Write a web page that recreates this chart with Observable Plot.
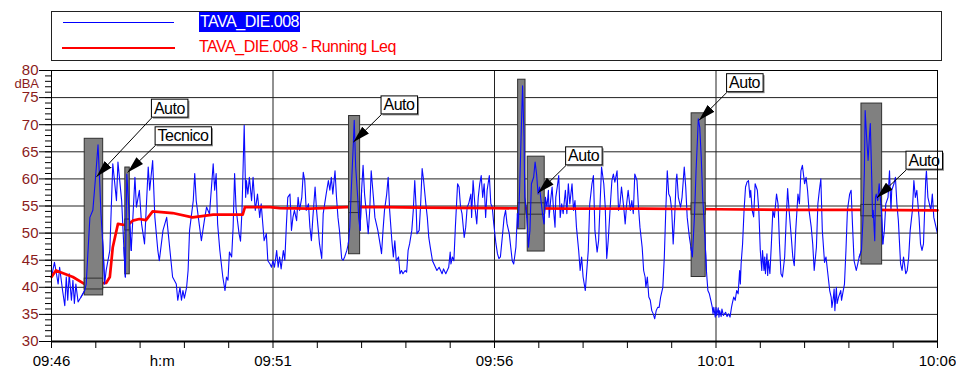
<!DOCTYPE html>
<html>
<head>
<meta charset="utf-8">
<script src="https://cdn.jsdelivr.net/npm/d3@7"></script>
<script src="https://cdn.jsdelivr.net/npm/@observablehq/plot@0.6"></script>
<style>
  html, body { margin: 0; padding: 0; background: #fff; }
  #legend { position: relative; width: 956px; height: 62px; font-family: "Liberation Sans", Arial, sans-serif; }
  #legend .box { position: absolute; left: 51px; top: 11px; width: 889px; height: 48px; border: 1px solid #222; }
  #legend .ln { position: absolute; }
  #legend .lbl { position: absolute; white-space: nowrap; height: 20px; line-height: 20px; }
  #chart svg { display: block; }
</style>
</head>
<body>
<div id="legend">
  <div class="box"></div>
  <div class="ln" style="left:63px;top:22px;width:111px;height:0;border-top:1px solid #0000ff"></div>
  <div class="ln" style="left:62px;top:47px;width:113px;height:0;border-top:2.6px solid #ff0000"></div>
  <div class="lbl" id="leg1" style="left:199px;top:12px;background:#0000ff;color:#fff;padding:0 1px 0 1px"></div>
  <div class="lbl" id="leg2" style="left:199px;top:37px;color:#ff0000"></div>
</div>
<div id="chart"></div>
<script>
// ---------------- data ----------------
const seriesNames = ["TAVA_DIE.008", "TAVA_DIE.008 - Running Leq"];

// seconds after 09:46:00
const laSeconds = [0,4,6,9,11,15,18,20,22,24,27,29,31,33,36,40,45,47,49,52,56,60,63,65,67,70,72,74,79,83,88,90,95,98,100,102,106,108,113,115,119,122,126,131,133,137,140,144,146,151,156,160,164,169,171,174,176,178,180,183,185,187,192,194,196,200,203,207,210,214,219,221,223,225,228,232,235,237,239,241,244,246,248,250,254,256,258,261,263,264,266,268,271,273,276,279,282,284,288,291,293,296,298,300,302,305,307,309,311,314,316,318,320,323,325,327,329,332,334,336,339,341,343,345,348,350,352,354,357,359,361,363,366,368,370,372,375,377,379,381,384,386,388,390,393,395,397,400,402,404,406,409,410,412,415,416,418,420,422,424,427,429,431,433,436,438,440,442,445,447,449,451,454,456,458,461,463,465,467,470,472,474,476,479,481,483,485,488,490,492,494,495,498,500,502,504,507,509,511,513,516,518,520,522,525,527,529,531,534,536,538,540,541,543,545,547,550,552,554,556,559,561,563,565,568,569,571,574,576,578,580,582,584,586,588,590,593,595,597,599,602,604,606,608,611,613,615,617,620,622,624,626,629,631,632,634,636,638,640,641,644,646,648,650,653,655,657,659,661,663,665,667,669,671,673,674,676,678,680,682,683,685,687,689,691,693,696,698,700,702,705,707,709,711,714,716,718,720,723,725,727,729,732,734,736,739,741,743,745,748,750,752,754,757,759,761,763,766,768,770,772,775,777,779,781,784,786,788,790,793,795,797,800,802,804,805,807,809,811,813,815,817,819,821,823,825,828,830,832,834,836,838,840,842,844,846,847,849,852,854,856,857,859,861,864,866,868,871,873,875,876,878,880,882,885,887,889,891,893,895,896,897,899,900,901,903,904,905,907,908,910,913,915,917,919,921,922,924,926,928,930,932,933,934,936,938,940,942,944,946,947,949,951,953,956,958,960,962,963,965,966,967,969,970,971,973,975,977,979,982,984,986,988,990,993,995,997,999,1002,1004,1006,1008,1011,1013,1015,1017,1020,1022,1024,1026,1029,1031,1033,1036,1038,1040,1042,1044,1047,1049,1051,1054,1056,1057,1059,1060,1061,1063,1064,1066,1069,1070,1072,1074,1076,1078,1081,1083,1085,1087,1090,1092,1094,1097,1099,1101,1102,1104,1106,1108,1109,1111,1112,1113,1115,1116,1117,1119,1121,1124,1126,1128,1130,1133,1135,1137,1138,1141,1143,1145,1147,1150,1152,1154,1157,1159,1161,1163,1166,1168,1170,1172,1175,1177,1179,1181,1184,1185,1187,1189,1191,1193,1195,1197,1200];
const laValues = [41.9,44.6,43.1,40.6,43.7,39.4,36.6,41.9,37.6,42.5,37.6,41.3,37,40.6,37.3,38.2,39.4,40.6,45.6,52.9,54.2,60.9,66.3,60.3,53.6,46.8,40.6,43.1,46.8,62.8,56,63.1,56,47.4,41.9,60.9,51.7,46.8,60.3,54.8,57.9,51.7,48,62.2,57.9,63.4,52.9,46.8,44.9,50.5,52.9,47.4,41.9,40.6,37.6,40,37.6,39.4,38,40,43.1,50.5,56,61,56,51.7,48.6,52.3,54.8,53.5,62.8,57.9,61,51.7,46.8,41.9,39.4,41.9,41.3,46.5,45.6,51.1,61,54.5,49.9,48.5,54.2,69.9,56.6,59.7,57.2,60.3,56,60.3,54.2,57.2,52.9,55.4,48.6,49.9,44.9,44.3,43.7,44.9,43.7,46.8,43.7,45.6,43.4,46.8,45,51.1,56.6,57.2,50.5,52.9,54.2,52.3,56.6,54.2,56.6,61.2,59.7,54.2,55.4,51.1,48.6,52.9,58.5,54.2,51.1,48,45.3,53.6,55.4,57.2,59.7,57.9,60.3,57.2,61.5,56.6,52.9,50.5,45.3,45,45.6,46.8,48,51.1,57.9,67.1,70.8,62.2,56,52.9,50.5,57.9,62.5,57.2,52.9,49.9,54.2,61.5,56.6,52.9,51.7,50.5,48,46.2,50.5,54.2,57.2,60.3,54.2,48.6,45.6,48.6,44.9,45.6,42.5,43.1,42.5,43.1,42.8,46.8,48,50.5,54.2,59.7,54.2,49.9,50.5,55.4,61.9,59.7,55.4,52.9,49.2,47.4,44.9,44.3,43.7,43.1,43.7,43.1,42.5,43.4,42.5,43.1,43.7,46.5,44.3,45.6,44.9,51.1,59.1,58.5,54.8,53.6,49.2,51.1,54.8,55.4,57.2,52.9,59.7,54.2,51.7,56.6,59.1,60.6,56.6,59.1,52.9,57.9,60.6,55.4,54.8,51.7,48,46.2,45.3,45.6,49.9,52.9,54.2,51.7,49.9,47.4,44.9,44.3,47.4,53.6,51.1,57.9,67.7,77.2,67.7,56.6,52.9,47.4,50.5,59.1,60.3,63.1,60.9,57.2,58.5,56,53.6,51.7,56.6,54.8,57.9,52.9,56,58.5,54.2,51.1,56.6,58.5,60.6,52.9,55.4,53.6,57.9,53.6,59.1,55.4,59.1,54.2,56,51.1,46.8,43.1,45.6,41.9,39.4,43.1,46.8,55.4,59.1,60.6,50.5,46.5,48.6,55.4,62.2,59.1,54.8,45.3,48.6,55.4,59.7,60.9,59.4,61.5,54.2,55.4,58.5,54.8,51.7,55.4,57.9,54.2,56,53.6,60.9,59.7,54.8,51.1,47.4,43.1,41.9,40,41.9,38.2,37.6,35.7,35.1,34.2,35.7,36.3,36.3,38.2,40,45.6,54.2,61.5,57.2,56.6,54.2,48,52.9,59.7,60.9,56.6,54.8,56.6,60.3,62.2,58.5,52.9,49.2,47.4,45.6,53.6,61.5,67.7,71.1,69.5,64,56.6,49.2,43.1,39.4,38.8,37.6,36.3,35.1,36.3,34.5,36.3,34.8,36.2,34.5,35.7,34.6,36,34.8,35.4,34.6,35.1,34.5,36.3,37,38.2,37.6,39.4,38.8,43.1,40.6,44.3,48,54.2,58.5,59.4,59.7,56.6,57.9,54.2,53,59.1,57.9,54.2,46.8,43.1,46.8,43.1,45.6,42.5,46.2,42.2,44.9,42.5,48,54.2,52.9,57.2,55.4,48,42.5,41.9,45.6,52.3,58.2,54.2,49.2,45.6,44,50.5,57.2,55.4,61.5,62.5,59.1,60.3,57.9,54.2,51.1,48,43.1,47.4,55.4,57.9,60,50.5,44.6,45.6,43.1,39.4,38.2,36.3,38.2,39.7,35.7,40,37,38.2,39.4,37.6,39.1,40.6,46.8,54.2,57.2,57.9,51.1,44.9,43.1,44.3,45.6,46.8,52.3,61.5,72.6,67.7,63.4,68.3,70.2,59.7,52.9,54.2,48.6,56.6,57.2,56,59.1,54.2,48,50.5,55.4,56.6,61.5,54.2,57.9,59.1,60.3,55.4,52.3,44.3,43.1,45.6,42.5,43.1,45.6,50.5,54.2,59.7,56.6,57.9,52.9,48,46.8,48,59.7,61.5,56.6,55.4,54.2,57.2,52.9,51.7,49.9];

const leqSeconds = [0,6,29,45,74,79,83,90,103,110,119,128,137,164,191,219,259,262,296,309,350,400,450,500,600,700,800,900,1000,1100,1200];
const leqValues  = [41.9,43.1,41.9,40.6,40.8,41.9,47.4,51.7,51.4,52.3,52.6,52.4,54.0,53.7,52.9,53.4,53.4,54.8,54.8,54.6,54.5,54.8,54.8,54.7,54.6,54.5,54.5,54.4,54.3,54.3,54.2];

// marked events (seconds, dB)
const eventStart = [45, 100, 403, 632, 645, 867, 1097];
const eventEnd   = [70, 106, 418, 642, 668, 886, 1125];
const eventLow   = [38.5, 42.4, 46.1, 50.7, 46.6, 41.9, 44.2];
const eventHigh  = [67.4, 62.1, 71.6, 78.3, 64.1, 72.1, 73.9];
const bandLow    = [39.6, 50.5, 53.7, 53.4, 53.4, 53.4, 53.1];
const bandHigh   = [41.6, 52.5, 55.7, 55.5, 55.5, 55.5, 55.2];

// annotations
const noteText    = ["Auto", "Tecnico", "Auto", "Auto", "Auto", "Auto"];
const noteSeconds = [136, 141, 447, 697, 915, 1158];
const noteLevel   = [71.3, 66.2, 71.9, 62.5, 76.0, 61.7];
const tipSeconds  = [61, 103, 409, 659, 877, 1118];
const tipLevel    = [60.4, 61.2, 66.8, 57.4, 70.8, 56.5];

// axes
const yTickValues  = [30, 35, 40, 45, 50, 55, 60, 65, 70, 75, 80];
const yUnit = "dBA";
const xTickSeconds = [0, 300, 600, 900, 1200];
const xTickLabels  = ["09:46", "09:51", "09:56", "10:01", "10:06"];
const xUnit = "h:m";
const xUnitSeconds = 150;

// ---------------- fonts ----------------
function hasFont(name) {
  const c = document.createElement("canvas").getContext("2d");
  c.font = "40px monospace";
  const a = c.measureText("AutoTecnico 0123").width;
  c.font = `40px "${name}", monospace`;
  return Math.abs(c.measureText("AutoTecnico 0123").width - a) > 0.5;
}
const narrow = hasFont("Liberation Sans Narrow");
const annFont = narrow ? '"Liberation Sans Narrow", "Liberation Sans", sans-serif' : '"Liberation Sans", Arial, sans-serif';
const annSize = narrow ? 18 : 16;
const annSpacing = narrow ? "0px" : "-0.5px";

const leg1 = document.getElementById("leg1"), leg2 = document.getElementById("leg2");
leg1.textContent = seriesNames[0];
leg2.textContent = seriesNames[1];
for (const el of [leg1, leg2]) {
  el.style.fontFamily = annFont;
  el.style.fontSize = annSize + "px";
  el.style.letterSpacing = annSpacing;
}

// ---------------- tables ----------------
const la = laSeconds.map((s, i) => ({s, v: laValues[i]}));
const leq = leqSeconds.map((s, i) => ({s, v: leqValues[i]}));
const events = eventStart.map((s, i) => ({
  id: i, x1: s, x2: eventEnd[i], y1: eventLow[i], y2: eventHigh[i], b1: bandLow[i], b2: bandHigh[i]
}));
const inEvents = events.flatMap(e => {
  let lo = laSeconds.findIndex(s => s >= e.x1);
  let hi = laSeconds.length - 1;
  for (let k = laSeconds.length - 1; k >= 0; k--) if (laSeconds[k] <= e.x2) { hi = k; break; }
  lo = Math.max(0, lo - 1); hi = Math.min(laSeconds.length - 1, hi + 1);
  return la.slice(lo, hi + 1).map(d => ({...d, z: e.id}));
});
const notes = noteText.map((t, i) => ({t, ls: noteSeconds[i], lv: noteLevel[i], ts: tipSeconds[i], tv: tipLevel[i]}));
const labelOf = new Map(xTickSeconds.map((s, i) => [s, xTickLabels[i]]));

const axisRed = "#8b1c1c";
const blue = "#0a0aff";

const plot = Plot.plot({
  width: 956,
  height: 310,
  marginTop: 8,
  marginBottom: 31,
  marginLeft: 51,
  marginRight: 19,
  x: {type: "linear", domain: [xTickSeconds[0], xTickSeconds[xTickSeconds.length - 1]]},
  y: {domain: [yTickValues[0], yTickValues[yTickValues.length - 1]]},
  style: {fontFamily: '"Liberation Sans", Arial, sans-serif', fontSize: "15px", background: "#fff", color: "#000", overflow: "visible"},
  marks: [
    Plot.gridY(yTickValues.slice(1, -1), {stroke: "#222", strokeOpacity: 1, strokeWidth: 1}),
    Plot.gridX(xTickSeconds.slice(1, -1), {stroke: "#222", strokeOpacity: 1, strokeWidth: 1}),
    Plot.line(la, {x: "s", y: "v", stroke: blue, strokeWidth: 1.1}),
    Plot.line(leq, {x: "s", y: "v", stroke: "#ff0000", strokeWidth: 2.7}),
    Plot.rect(events, {x1: "x1", x2: "x2", y1: "y1", y2: "y2", fill: "#808080", stroke: "#303030", strokeWidth: 1}),
    Plot.rect(events, {x1: "x1", x2: "x2", y1: "b1", y2: "b2", fill: "#808080", stroke: "#303030", strokeWidth: 1}),
    Plot.line(inEvents, {x: "s", y: "v", z: "z", stroke: blue, strokeWidth: 1.1}),
    Plot.link(notes, {x1: "ls", y1: "lv", x2: "ts", y2: "tv", stroke: "#000", strokeWidth: 1}),
    Plot.text(notes, {x: "ls", y: "lv", text: "t", textAnchor: "start", lineAnchor: "bottom",
      fontSize: annSize, fontFamily: annFont, fill: "#000"}),
    Plot.axisY(d3.range(yTickValues[0], yTickValues[yTickValues.length - 1] + 1, 1),
      {tickSize: 6, tickFormat: () => "", stroke: "#000"}),
    Plot.axisY(yTickValues, {tickSize: 12, tickPadding: 1, stroke: "#000", fill: axisRed, fontSize: 15, label: null}),
    Plot.axisX(d3.range(xTickSeconds[0], xTickSeconds[xTickSeconds.length - 1] + 1, 60),
      {tickSize: 7, tickPadding: 7, stroke: "#000", fill: "#000", fontSize: 15, label: null,
       tickFormat: s => labelOf.get(s) ?? ""}),
    Plot.text([yUnit], {text: d => d, frameAnchor: "top-left", lineAnchor: "middle", dx: -12.5, dy: 13.5, textAnchor: "end", fill: axisRed, fontSize: 13}),
    Plot.text([{s: xUnitSeconds, t: xUnit}], {x: "s", text: "t", frameAnchor: "bottom", lineAnchor: "middle", dy: 20, fill: "#000", fontSize: 15}),
    Plot.frame({stroke: "#000", strokeWidth: 1}),
    Plot.ruleY([yTickValues[0]], {stroke: "#000", strokeWidth: 2})
  ]
});

const svg = plot;
document.getElementById("chart").append(svg);

// ---------------- filled arrowheads and label boxes ----------------
const ns = "http://www.w3.org/2000/svg";
const defs = document.createElementNS(ns, "defs");
const marker = document.createElementNS(ns, "marker");
marker.setAttribute("id", "arrowhead-fill");
marker.setAttribute("viewBox", "-17 -5 17 10");
marker.setAttribute("refX", "0");
marker.setAttribute("refY", "0");
marker.setAttribute("markerWidth", "17");
marker.setAttribute("markerHeight", "10");
marker.setAttribute("markerUnits", "userSpaceOnUse");
marker.setAttribute("orient", "auto");
const head = document.createElementNS(ns, "path");
head.setAttribute("d", "M-17,-4.8L0,0L-17,4.8Z");
head.setAttribute("fill", "#000");
marker.append(head);
defs.append(marker);
svg.insertBefore(defs, svg.firstChild);
svg.querySelectorAll('g[aria-label="link"] path').forEach(p => p.setAttribute("marker-end", "url(#arrowhead-fill)"));

const xs = plot.scale("x"), ys = plot.scale("y");
const annG = Array.from(svg.querySelectorAll('g[aria-label="text"]')).find(g => {
  const ts = g.querySelectorAll("text");
  return ts.length === notes.length && ts[1].textContent === noteText[1];
});
if (annG) {
  annG.setAttribute("letter-spacing", annSpacing);
  const boxG = document.createElementNS(ns, "g");
  annG.parentNode.insertBefore(boxG, annG);
  const sr = svg.getBoundingClientRect();
  annG.querySelectorAll("text").forEach((t, i) => {
    const r = t.getBoundingClientRect();
    const bx = r.left - sr.left, by = r.top - sr.top;
    const ax = xs.apply(notes[i].ls), ay = ys.apply(notes[i].lv);
    const padX = 2.5, padY = 0.5;
    const w = r.width + 2 * padX, h = r.height + 2 * padY;
    const shiftX = ax + padX - bx, shiftY = ay - padY - (by + r.height);
    const old = t.getAttribute("transform") || "";
    t.setAttribute("transform", `translate(${shiftX},${shiftY}) ${old}`);
    const sh = document.createElementNS(ns, "rect");
    sh.setAttribute("x", ax + 1.5); sh.setAttribute("y", ay - h + 1.5);
    sh.setAttribute("width", w); sh.setAttribute("height", h);
    sh.setAttribute("fill", "#8a8a8a");
    const bxr = document.createElementNS(ns, "rect");
    bxr.setAttribute("x", ax); bxr.setAttribute("y", ay - h);
    bxr.setAttribute("width", w); bxr.setAttribute("height", h);
    bxr.setAttribute("fill", "#fff"); bxr.setAttribute("stroke", "#000"); bxr.setAttribute("stroke-width", "1");
    boxG.append(sh, bxr);
  });
}
</script>
</body>
</html>
